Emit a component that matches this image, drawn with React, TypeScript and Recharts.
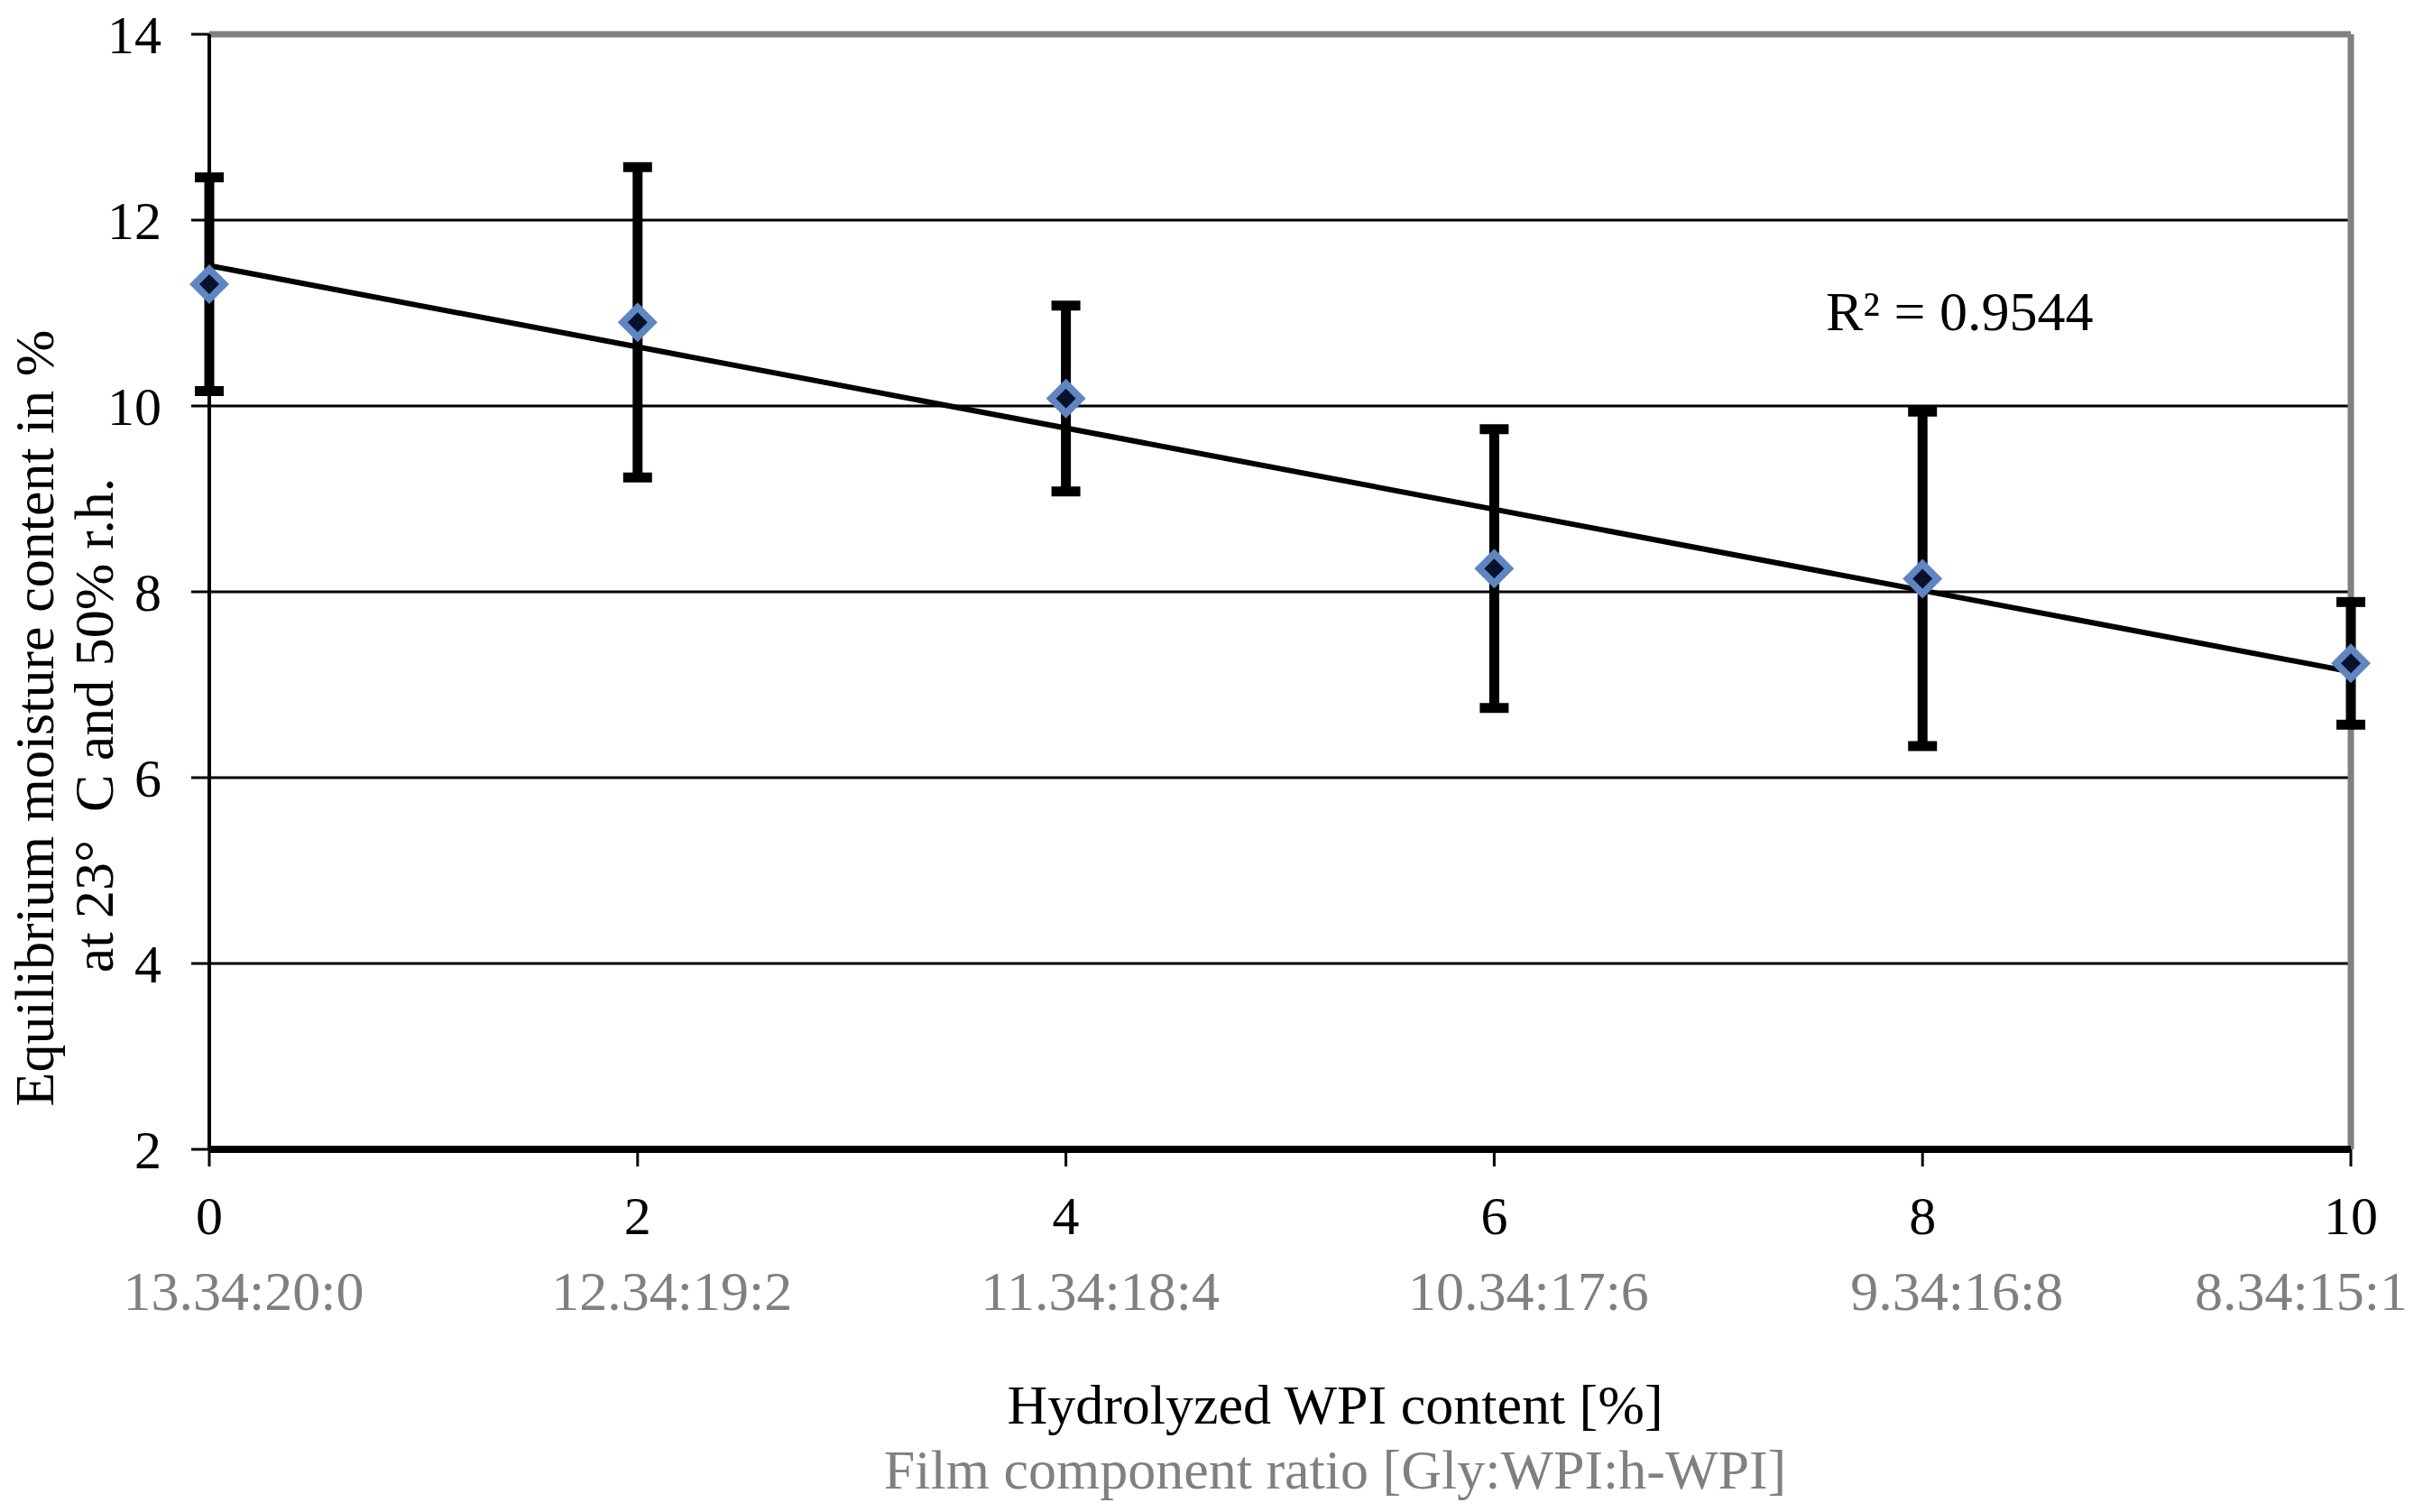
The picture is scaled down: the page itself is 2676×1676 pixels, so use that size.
import {
  ComposedChart,
  Scatter,
  XAxis,
  YAxis,
  CartesianGrid,
  ErrorBar,
  ReferenceLine,
  Customized,
} from "recharts";

// hydrolyzed WPI content [%] and the measured equilibrium moisture
const hwpiContent = [0, 2, 4, 6, 8, 10];
const moisture = [11.31, 10.9, 10.08, 8.25, 8.14, 7.23];
const moistureSd = [1.15, 1.67, 1.0, 1.5, 1.8, 0.66];
const ratioLabels = [
  "13.34:20:0",
  "12.34:19:2",
  "11.34:18:4",
  "10.34:17:6",
  "9.34:16:8",
  "8.34:15:1",
];
const yTicks = [2, 4, 6, 8, 10, 12, 14];

// linear trend line (endpoints as drawn in the figure)
const trendX = [0, 10];
const trendY = [11.51, 7.14];
const rSquared = "0.9544";

const FONT = "'Liberation Serif', 'Times New Roman', serif";
const W = 2676;
const H = 1676;

const points = hwpiContent.map((x, i) => ({ x, y: moisture[i], err: moistureSd[i] }));
const trend = trendX.map((x, i) => ({ x, y: trendY[i] }));

function Diamond(props: any) {
  const { cx, cy } = props;
  if (cx == null || cy == null) return <g />;
  const o = 22;
  const n = 11;
  return (
    <g>
      <polygon
        points={`${cx},${cy - o} ${cx + o},${cy} ${cx},${cy + o} ${cx - o},${cy}`}
        fill="#5f86c2"
      />
      <polygon
        points={`${cx},${cy - n} ${cx + n},${cy} ${cx},${cy + n} ${cx - n},${cy}`}
        fill="#08132b"
      />
    </g>
  );
}

function RatioTick(props: any) {
  const { x, y, payload } = props;
  const i = hwpiContent.indexOf(payload.value);
  const last = i === hwpiContent.length - 1;
  return (
    <g>
      <text x={x} y={y + 73} textAnchor="middle" fontSize={60} fill="#000" fontFamily={FONT}>
        {payload.value}
      </text>
      <text
        x={last ? W - 7 : x + 38}
        y={y + 157}
        textAnchor={last ? "end" : "middle"}
        fontSize={62}
        fill="#808080"
        fontFamily={FONT}
      >
        {ratioLabels[i]}
      </text>
    </g>
  );
}

function Titles() {
  return (
    <g fontFamily={FONT}>
      <text x={2024} y={366} fontSize={62} fill="#000">
        R² = {rSquared}
      </text>
      <text x={1480} y={1578} fontSize={62} fill="#000" textAnchor="middle">
        Hydrolyzed WPI content [%]
      </text>
      <text x={1480} y={1650} fontSize={62} fill="#808080" textAnchor="middle">
        Film component ratio [Gly:WPI:h-WPI]
      </text>
      <text
        transform="translate(59, 796) rotate(-90)"
        fontSize={62}
        fill="#000"
        textAnchor="middle"
      >
        Equilibrium moisture content in %
      </text>
      <text
        transform="translate(125, 804) rotate(-90)"
        fontSize={62}
        fill="#000"
        textAnchor="middle"
        style={{ whiteSpace: "pre" }}
      >
        {"at 23°  C and 50% r.h."}
      </text>
    </g>
  );
}

export default function App() {
  return (
    <div style={{ position: "absolute", left: 0, top: 0, background: "#fff" }}>
      <ComposedChart
        width={W}
        height={H}
        data={points}
        margin={{ top: 38, right: 70, left: 0, bottom: 0 }}
        style={{ fontFamily: FONT }}
      >
        <CartesianGrid horizontal vertical={false} stroke="#000" strokeWidth={3} />
        <XAxis
          type="number"
          dataKey="x"
          domain={[0, 10]}
          ticks={hwpiContent}
          height={402}
          tickSize={19}
          axisLine={{ stroke: "#000", strokeWidth: 8 }}
          tickLine={{ stroke: "#000", strokeWidth: 3 }}
          tick={<RatioTick />}
          interval={0}
        />
        <YAxis
          type="number"
          domain={[2, 14]}
          ticks={yTicks}
          width={232}
          tickSize={20}
          tickMargin={33}
          axisLine={{ stroke: "#000", strokeWidth: 4 }}
          tickLine={{ stroke: "#000", strokeWidth: 3 }}
          tick={{ fontSize: 60, fill: "#000", fontFamily: FONT }}
          interval={0}
        />
        <ReferenceLine y={14} stroke="#808080" strokeWidth={7} />
        <ReferenceLine x={10} stroke="#808080" strokeWidth={7} />
        <Scatter
          data={trend}
          dataKey="y"
          line={{ stroke: "#000", strokeWidth: 6 }}
          shape={() => <g />}
          isAnimationActive={false}
          legendType="none"
        />
        <Scatter
          data={points}
          dataKey="y"
          shape={<Diamond />}
          isAnimationActive={false}
          legendType="none"
        >
          <ErrorBar dataKey="err" direction="y" width={16} stroke="#000" strokeWidth={11} />
        </Scatter>
        <Customized component={Titles} />
      </ComposedChart>
    </div>
  );
}
